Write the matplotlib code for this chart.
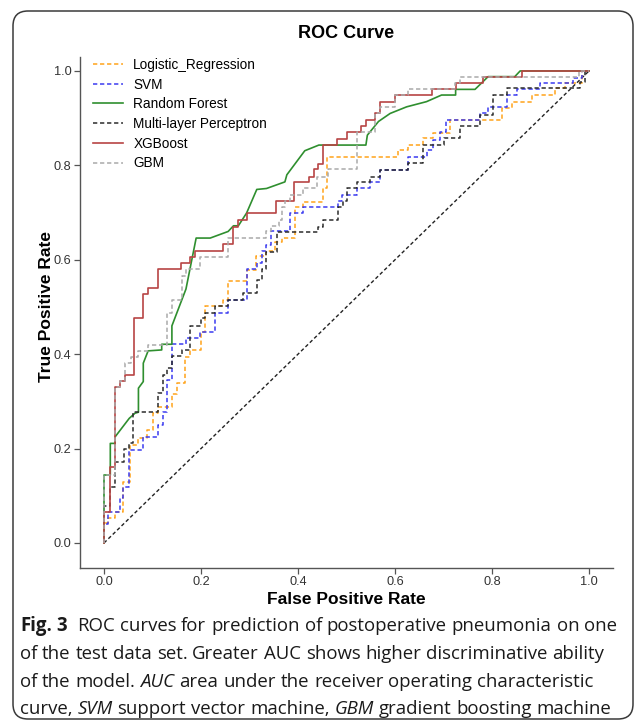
import matplotlib
matplotlib.use("Agg")
import matplotlib.pyplot as plt
from matplotlib.patches import FancyBboxPatch
from matplotlib.transforms import IdentityTransform

plt.rcParams["font.family"] = ["Liberation Sans", "DejaVu Sans"]

# ROC points. Staircase curves are stored as
# (fpr, tpr) pairs drawn with steps-pre; Random Forest as plain vertices.
lr_fpr = [0, 0.009, 0.023, 0.040, 0.054, 0.070, 0.088, 0.102, 0.112, 0.140, 0.150, 0.167, 0.177,
          0.199, 0.208, 0.246, 0.256, 0.294, 0.313, 0.335, 0.353, 0.366, 0.394, 0.411, 0.452, 0.459,
          0.607, 0.627, 0.658, 0.679, 0.713, 0.820, 0.841, 0.882, 0.930, 0.951, 0.985, 1.0]
lr_tpr = [0, 0.042, 0.052, 0.066, 0.130, 0.208, 0.222, 0.239, 0.275, 0.289, 0.316, 0.338, 0.395,
          0.409, 0.448, 0.501, 0.515, 0.554, 0.578, 0.607, 0.619, 0.638, 0.646, 0.712, 0.723, 0.751,
          0.817, 0.833, 0.843, 0.857, 0.869, 0.896, 0.921, 0.935, 0.949, 0.963, 0.974, 1.0]

svm_fpr = [0, 0.009, 0.033, 0.040, 0.052, 0.081, 0.112, 0.121, 0.130, 0.140, 0.170, 0.198, 0.229,
           0.256, 0.294, 0.315, 0.325, 0.335, 0.344, 0.384, 0.411, 0.482, 0.490, 0.521, 0.548, 0.569,
           0.627, 0.665, 0.679, 0.693, 0.706, 0.775, 0.792, 0.830, 0.851, 0.899, 0.968, 0.985, 1.0]
svm_tpr = [0, 0.040, 0.065, 0.095, 0.119, 0.197, 0.224, 0.250, 0.278, 0.345, 0.421, 0.434, 0.448,
           0.487, 0.514, 0.580, 0.594, 0.619, 0.631, 0.660, 0.699, 0.711, 0.725, 0.737, 0.751, 0.765,
           0.790, 0.817, 0.833, 0.854, 0.870, 0.896, 0.910, 0.923, 0.949, 0.961, 0.975, 0.986, 1.0]

rf_fpr = [0, 0, 0.013, 0.013, 0.023, 0.023, 0.052, 0.064, 0.071, 0.071, 0.081, 0.081, 0.091, 0.119,
          0.119, 0.140, 0.140, 0.169, 0.190, 0.219, 0.256, 0.267, 0.277, 0.294, 0.315, 0.335, 0.373,
          0.377, 0.414, 0.443, 0.540, 0.543, 0.566, 0.590, 0.624, 0.665, 0.696, 0.725, 0.725, 0.765,
          0.792, 0.847, 0.858, 1.0]
rf_tpr = [0, 0.144, 0.144, 0.211, 0.211, 0.225, 0.264, 0.275, 0.277, 0.328, 0.342, 0.381, 0.407,
          0.409, 0.421, 0.421, 0.460, 0.538, 0.646, 0.646, 0.660, 0.672, 0.672, 0.699, 0.749, 0.751,
          0.765, 0.780, 0.831, 0.843, 0.843, 0.864, 0.893, 0.910, 0.924, 0.935, 0.949, 0.949, 0.961,
          0.961, 0.988, 0.988, 1.0, 1.0]

mlp_fpr = [0, 0.012, 0.023, 0.042, 0.052, 0.060, 0.112, 0.121, 0.130, 0.140, 0.161, 0.177, 0.200,
           0.209, 0.229, 0.256, 0.287, 0.315, 0.325, 0.335, 0.356, 0.441, 0.452, 0.482, 0.493, 0.500,
           0.521, 0.548, 0.569, 0.627, 0.658, 0.701, 0.735, 0.775, 0.803, 0.830, 0.981, 0.991, 1.0]
mlp_tpr = [0, 0.079, 0.119, 0.172, 0.199, 0.211, 0.278, 0.317, 0.356, 0.370, 0.396, 0.409, 0.460,
           0.476, 0.487, 0.501, 0.515, 0.530, 0.557, 0.580, 0.617, 0.658, 0.670, 0.684, 0.712, 0.725,
           0.751, 0.764, 0.776, 0.790, 0.804, 0.843, 0.857, 0.883, 0.907, 0.949, 0.963, 0.977, 1.0]

xgb_fpr = [0, 0.013, 0.023, 0.033, 0.043, 0.062, 0.081, 0.091, 0.111, 0.159, 0.177, 0.188, 0.246,
           0.267, 0.276, 0.294, 0.354, 0.392, 0.423, 0.432, 0.442, 0.452, 0.481, 0.500, 0.530, 0.540,
           0.559, 0.569, 0.600, 0.676, 0.725, 0.782, 0.861, 1.0]
xgb_tpr = [0, 0.066, 0.161, 0.331, 0.343, 0.356, 0.477, 0.528, 0.540, 0.580, 0.593, 0.606, 0.619,
           0.633, 0.670, 0.684, 0.699, 0.725, 0.765, 0.776, 0.792, 0.803, 0.843, 0.856, 0.870, 0.883,
           0.896, 0.910, 0.935, 0.949, 0.961, 0.975, 0.988, 1.0]

gbm_fpr = [0, 0.023, 0.033, 0.043, 0.055, 0.071, 0.091, 0.130, 0.140, 0.161, 0.170, 0.198, 0.256,
           0.334, 0.344, 0.361, 0.368, 0.373, 0.383, 0.410, 0.439, 0.462, 0.521, 0.559, 0.569, 0.600,
           0.627, 0.724, 0.734, 0.979, 1.0]
gbm_tpr = [0, 0.144, 0.331, 0.343, 0.381, 0.394, 0.407, 0.420, 0.487, 0.515, 0.566, 0.580, 0.606,
           0.646, 0.660, 0.672, 0.684, 0.711, 0.725, 0.737, 0.751, 0.776, 0.792, 0.870, 0.910, 0.923,
           0.949, 0.961, 0.975, 0.988, 1.0]

ticks = [0.0, 0.2, 0.4, 0.6, 0.8, 1.0]

caption = [
    [("Fig. 3", "bold"), ("  ROC curves for prediction of postoperative pneumonia on one", "normal")],
    [("of the test data set. Greater AUC shows higher discriminative ability", "normal")],
    [("of the model. ", "normal"), ("AUC", "italic"),
     (" area under the receiver operating characteristic", "normal")],
    [("curve, ", "normal"), ("SVM", "italic"), (" support vector machine, ", "normal"),
     ("GBM", "italic"), (" gradient boosting machine", "normal")],
]

W, H = 635, 722
fig = plt.figure(figsize=(W / 100, H / 100), dpi=100)
ax = fig.add_axes([79.75 / W, 1 - 568 / H, 533.5 / W, 511.2 / H])

dash = (2.8, 1.8)
ax.plot([0, 1], [0, 1], color="#222222", lw=1.0, dashes=(2.6, 1.8))
ax.plot(lr_fpr, lr_tpr, drawstyle="steps-pre", color="#FFA31A", lw=1.1, dashes=dash,
        label="Logistic_Regression")
ax.plot(svm_fpr, svm_tpr, drawstyle="steps-pre", color="#3A3AF0", lw=1.1, dashes=dash, label="SVM")
ax.plot(rf_fpr, rf_tpr, color="#2F8F2F", lw=1.2, label="Random Forest")
ax.plot(mlp_fpr, mlp_tpr, drawstyle="steps-pre", color="#2B2B2B", lw=1.1, dashes=dash,
        label="Multi-layer Perceptron")
ax.plot(xgb_fpr, xgb_tpr, drawstyle="steps-pre", color="#B84444", lw=1.2, label="XGBoost")
ax.plot(gbm_fpr, gbm_tpr, drawstyle="steps-pre", color="#AAAAAA", lw=1.1, dashes=dash, label="GBM")

ax.set_xlim(-0.05, 1.05)
ax.set_ylim(-0.053, 1.03)
ax.set_xticks(ticks)
ax.set_yticks(ticks)
for s in ["top", "right"]:
    ax.spines[s].set_visible(False)
for s in ["left", "bottom"]:
    ax.spines[s].set_color("#555555")
    ax.spines[s].set_linewidth(1.0)
ax.tick_params(direction="out", length=4, width=0.9, color="#555555", labelcolor="#333333",
               labelsize=9.2, pad=2)

ax.set_xlabel("False Positive Rate", fontsize=12.5, fontweight="bold")
ax.set_ylabel("True Positive Rate", fontsize=12.5, fontweight="bold")
ax.xaxis.set_label_coords(0.5, -0.046)
ax.yaxis.set_label_coords(-0.048, 0.5125)

ax.legend(loc="upper left", bbox_to_anchor=(0.025, 0.998), frameon=False, fontsize=9.8,
          handlelength=2.2, handletextpad=0.75, labelspacing=0.42, borderpad=0, borderaxespad=0)

fig.text(346.5 / W, 1 - 33 / H, "ROC Curve", ha="center", va="center", fontsize=13,
         fontweight="bold")

# caption below the chart, laid out word by word in pixel coordinates
cap_font = ["Open Sans", "DejaVu Sans"]
renderer = fig.canvas.get_renderer()


def text_width(s, size, style):
    t = fig.text(0, 0, s, fontsize=size, family=cap_font,
                 fontweight="bold" if style == "bold" else "normal",
                 fontstyle="italic" if style == "italic" else "normal",
                 transform=IdentityTransform())
    w = t.get_window_extent(renderer).width
    t.remove()
    return w


def line_width(parts, size):
    sp = text_width("a a", size, "normal") - text_width("aa", size, "normal")
    total = 0
    for txt, style in parts:
        words = txt.split(" ")
        for i, w in enumerate(words):
            if w:
                total += text_width(w, size, style)
            if i < len(words) - 1:
                total += sp
    return total


size = 14
size = size * 602 / line_width(caption[0], size)
sp = text_width("a a", size, "normal") - text_width("aa", size, "normal")
baselines = [631, 659, 687, 714]
for parts, yb in zip(caption, baselines):
    x = 20
    for txt, style in parts:
        words = txt.split(" ")
        for i, w in enumerate(words):
            if w:
                fig.text(x, H - yb, w, fontsize=size, family=cap_font, color="#1a1a1a",
                         fontweight="bold" if style == "bold" else "normal",
                         fontstyle="italic" if style == "italic" else "normal",
                         va="baseline", transform=IdentityTransform())
                x += text_width(w, size, style)
            if i < len(words) - 1:
                x += sp

frame = FancyBboxPatch((0.13, 0.03), 6.20, 7.08, boxstyle="round,pad=0,rounding_size=0.15",
                       transform=fig.dpi_scale_trans, fill=False, edgecolor="#3a3a3a", lw=1.1)
fig.add_artist(frame)

fig.savefig("out.png", dpi=100)
